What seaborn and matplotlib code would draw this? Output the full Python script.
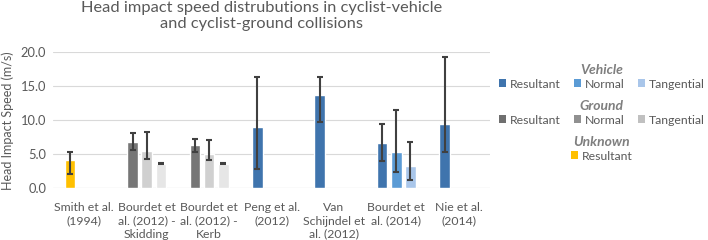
import pandas as pd
import matplotlib.pyplot as plt
import seaborn as sns
import numpy as np
from matplotlib.patches import Patch

# Data
studies = ["Smith et al.\n(1994)", "Bourdet et\nal. (2012) -\nSkidding", "Bourdet et\nal. (2012) -\nKerb",
           "Peng et al.\n(2012)", "Van\nSchijndel et\nal. (2012)", "Bourdet et\nal. (2014)", "Nie et al.\n(2014)"]
bar_study = [0, 1, 1, 1, 2, 2, 2, 3, 4, 5, 5, 5, 6]
bar_source = ["Unknown", "Ground", "Ground", "Ground", "Ground", "Ground", "Ground",
              "Vehicle", "Vehicle", "Vehicle", "Vehicle", "Vehicle", "Vehicle"]
bar_component = ["Resultant", "Resultant", "Normal", "Tangential", "Resultant", "Normal", "Tangential",
                 "Resultant", "Resultant", "Resultant", "Normal", "Tangential", "Resultant"]
speed = [4.1, 6.8, 5.5, 3.6, 6.3, 5.1, 3.6, 9.0, 13.65, 6.7, 5.4, 3.3, 9.4]
err_low = [2.1, 5.7, 4.3, 3.6, 5.35, 4.1, 3.6, 2.8, 9.8, 4.0, 2.4, 1.2, 5.3]
err_high = [5.35, 8.1, 8.3, 3.7, 7.3, 7.1, 3.7, 16.3, 16.3, 9.5, 11.5, 6.8, 19.3]

components = ["Resultant", "Normal", "Tangential"]
bar_colors = {
    ("Vehicle", "Resultant"): "#3f74ad",
    ("Vehicle", "Normal"): "#5b9bd5",
    ("Vehicle", "Tangential"): "#a9c6ea",
    ("Ground", "Resultant"): "#767676",
    ("Ground", "Normal"): "#d0d0d0",
    ("Ground", "Tangential"): "#e6e6e6",
    ("Unknown", "Resultant"): "#ffc000",
}
legend_colors = {
    "Vehicle": ["#3f74ad", "#5b9bd5", "#a9c6ea"],
    "Ground": ["#6f6f6f", "#909090", "#c0c0c0"],
    "Unknown": ["#ffc000"],
}

df = pd.DataFrame({
    "study": [studies[i] for i in bar_study],
    "source": bar_source,
    "component": bar_component,
    "speed": speed,
    "low": err_low,
    "high": err_high,
})

sns.set_style("white")
plt.rcParams["font.family"] = ["Lato", "DejaVu Sans"]
text_col = "#595959"

fig = plt.figure(figsize=(7.08, 2.4), dpi=100)
ax = fig.add_axes([0.075, 0.215, 0.617, 0.568])

sns.barplot(data=df, x="study", y="speed", hue="component", order=studies, hue_order=components,
            errorbar=None, width=0.68, legend=False, ax=ax)

# recolour each bar and add asymmetric error bars
lookup = {(r.study, r.component): r for r in df.itertuples()}
for bar in ax.patches:
    if bar.get_height() == 0 or np.isnan(bar.get_height()):
        continue
    xc = bar.get_x() + bar.get_width() / 2
    cat = int(round(xc))
    slot = int(round((xc - cat) / bar.get_width())) + 1
    row = lookup.get((studies[cat], components[slot]))
    if row is None:
        continue
    bar.set_facecolor(bar_colors[(row.source, row.component)])
    bar.set_width(0.17)
    bar.set_x(xc - 0.085)
    ax.errorbar(xc, row.speed, yerr=[[row.speed - row.low], [row.high - row.speed]],
                fmt="none", ecolor="#404040", elinewidth=1.5, capsize=2.5, capthick=1.5, zorder=5)

ax.set_ylim(0, 20)
ax.set_xlim(-0.5, 6.5)
ax.set_yticks([0, 5, 10, 15, 20])
ax.set_yticklabels([f"{v:.1f}" for v in [0, 5, 10, 15, 20]])
ax.yaxis.grid(True, color="#d9d9d9", linewidth=0.8)
ax.set_axisbelow(True)
for s in ax.spines.values():
    s.set_visible(False)
ax.axhline(0, color="#d9d9d9", linewidth=0.8, zorder=0)
ax.tick_params(axis="x", length=0, labelsize=8.8, colors=text_col, pad=10)
ax.tick_params(axis="y", length=0, labelsize=9.3, colors=text_col, pad=5)
for lab in ax.get_xticklabels():
    lab.set_linespacing(1.25)
ax.set_xlabel("")
ax.set_ylabel("Head Impact Speed (m/s)", fontsize=9, color=text_col, labelpad=5)

fig.text(0.37, 0.995, "Head impact speed distrubutions in cyclist-vehicle\nand cyclist-ground collisions",
         ha="center", va="top", fontsize=11.8, color=text_col, linespacing=1.15)

# grouped legends
legend_y = {"Vehicle": 0.68, "Ground": 0.53, "Unknown": 0.38}
for src, cols in legend_colors.items():
    handles = [Patch(facecolor=c, edgecolor="none") for c in cols]
    labels = components[:len(cols)]
    leg = fig.legend(handles, labels, title=src, loc="center", bbox_to_anchor=(0.85, legend_y[src]),
                     ncol=len(cols), frameon=False, fontsize=8.8, handlelength=0.6, handleheight=0.6,
                     handletextpad=0.3, columnspacing=1.1, borderpad=0, labelspacing=0.2)
    leg.get_title().set_fontweight("bold")
    leg.get_title().set_fontstyle("italic")
    leg.get_title().set_fontsize(10)
    leg.get_title().set_color("#7f7f7f")
    for t in leg.get_texts():
        t.set_color(text_col)

fig.savefig("out.png", dpi=100)
